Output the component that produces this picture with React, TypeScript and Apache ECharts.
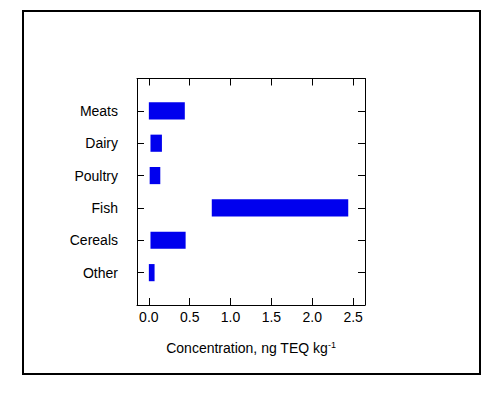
import React, { useEffect, useRef } from "react";
import * as echarts from "echarts";

const categories = ["Meats", "Dairy", "Poultry", "Fish", "Cereals", "Other"];
const rangeStart = [0.0, 0.02, 0.01, 0.77, 0.02, 0.0];
const rangeEnd = [0.44, 0.16, 0.14, 2.44, 0.45, 0.07];
const xTicks = [0, 0.5, 1.0, 1.5, 2.0, 2.5];
const yTicks = [1, 2, 3, 4, 5, 6];

const FONT = "Liberation Sans, Arial, sans-serif";

export default function App() {
  const ref = useRef<HTMLDivElement>(null);
  useEffect(() => {
    if (!ref.current) return;
    const chart = echarts.init(ref.current, null, { renderer: "svg" });
    const data = categories.map((c, i) => [rangeStart[i], rangeEnd[i], i + 1]);
    const lineStyle = { color: "#000", width: 1 };
    const xMin = -0.145;
    const xMax = 2.645;
    chart.setOption({
      animation: false,
      backgroundColor: "#fff",
      textStyle: { fontFamily: FONT },
      graphic: [
        {
          type: "rect",
          shape: { x: 23, y: 11, width: 457, height: 363 },
          style: { fill: "none", stroke: "#000", lineWidth: 2 },
          silent: true,
        },
      ],
      grid: { left: 137, right: 139, top: 78.5, bottom: 89, containLabel: false },
      xAxis: [
        {
          type: "value",
          position: "bottom",
          min: xMin,
          max: xMax,
          splitLine: { show: false },
          axisLine: { show: true, onZero: false, lineStyle },
          axisTick: { show: true, inside: true, length: 7, lineStyle, customValues: xTicks },
          axisLabel: {
            customValues: xTicks,
            formatter: (v: number) => v.toFixed(1),
            color: "#000",
            fontSize: 14,
            fontFamily: FONT,
            margin: 5,
          },
          name: "Concentration, ng TEQ kg{sup|-1}",
          nameLocation: "middle",
          nameGap: 35,
          nameTextStyle: {
            color: "#000",
            fontSize: 14,
            fontFamily: FONT,
            rich: {
              sup: { fontSize: 9, verticalAlign: "top", padding: [0, 0, 7, 0], color: "#000", fontFamily: FONT },
            },
          },
        },
        {
          type: "value",
          position: "top",
          min: xMin,
          max: xMax,
          splitLine: { show: false },
          axisLine: { show: true, onZero: false, lineStyle },
          axisTick: { show: true, inside: true, length: 7, lineStyle, customValues: xTicks },
          axisLabel: { show: false },
        },
      ],
      yAxis: [
        {
          type: "value",
          position: "left",
          min: 0,
          max: 7,
          inverse: true,
          splitLine: { show: false },
          axisLine: { show: true, onZero: false, lineStyle },
          axisTick: { show: true, inside: true, length: 7, lineStyle, customValues: yTicks },
          axisLabel: {
            customValues: yTicks,
            formatter: (v: number) => categories[Math.round(v) - 1] || "",
            color: "#000",
            fontSize: 14,
            fontFamily: FONT,
            margin: 19,
            padding: [0, 0, 6, 0],
          },
        },
        {
          type: "value",
          position: "right",
          min: 0,
          max: 7,
          inverse: true,
          splitLine: { show: false },
          axisLine: { show: true, onZero: false, lineStyle },
          axisTick: { show: true, inside: true, length: 7, lineStyle, customValues: yTicks },
          axisLabel: { show: false },
        },
      ],
      series: [
        {
          type: "custom",
          xAxisIndex: 0,
          yAxisIndex: 0,
          encode: { x: [0, 1], y: 2 },
          data,
          renderItem: (params: any, api: any) => {
            const p0 = api.coord([api.value(0), api.value(2)]);
            const p1 = api.coord([api.value(1), api.value(2)]);
            const h = api.size([0, 0.53])[1];
            return {
              type: "rect",
              shape: { x: p0[0], y: p0[1] - h / 2, width: p1[0] - p0[0], height: h },
              style: { fill: "#0000ee" },
            };
          },
        },
      ],
    });
    return () => chart.dispose();
  }, []);
  return (
    <div
      ref={ref}
      style={{ position: "fixed", left: 0, top: 0, width: 504, height: 394 }}
    />
  );
}
